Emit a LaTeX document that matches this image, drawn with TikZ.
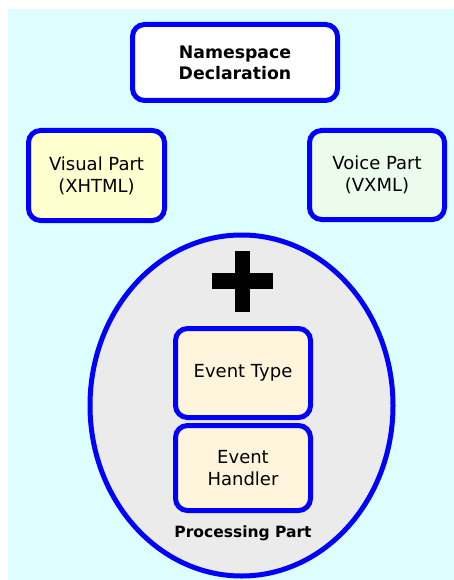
\documentclass[tikz,border=0pt]{standalone}
\usepackage{fontspec}
\setmainfont{DejaVu Sans}
\definecolor{nenxanh}{RGB}{221,255,255}
\definecolor{vienxanh}{RGB}{0,0,255}
\definecolor{vang}{RGB}{255,255,208}
\definecolor{xanhla}{RGB}{236,252,236}
\definecolor{xam}{RGB}{235,235,235}
\definecolor{kem}{RGB}{255,245,220}
\begin{document}
\begin{tikzpicture}[x=1pt,y=-1pt,line join=round,
	part/.style={draw=vienxanh,line width=5pt,rounded corners=12pt,align=center,font=\fontsize{18}{22}\selectfont},
	bold/.style={font=\fontsize{17.3}{21}\selectfont\bfseries}]
	\useasboundingbox (0,0) rectangle (454,580);
	\fill[nenxanh] (8,9) rectangle (454,580);
	% khung tren cung
	\node[part,bold,fill=white,minimum width=205pt,minimum height=76pt] (ns) at (235,62.5) {Namespace\\Declaration};
	\node[part,fill=vang,minimum width=136pt,minimum height=90pt] (visual) at (96.5,175.5) {Visual Part\\(XHTML)};
	\node[part,fill=xanhla,minimum width=135pt,minimum height=89pt] (voice) at (377,175) {Voice Part\\(VXML)};
	% phan xu ly (ellipse)
	\draw[vienxanh,line width=5pt,fill=xam] (241.5,405.5) ellipse [x radius=151.5, y radius=170.5];
	\fill (212,273) rectangle (273,289);
	\fill (235,251) rectangle (250,312);
	\node[part,fill=kem,minimum width=135pt,minimum height=89pt] (type) at (243,373) {Event Type};
	\node[part,fill=kem,minimum width=135pt,minimum height=85pt] (handler) at (243,468) {Event\\Handler};
	\node[font=\fontsize{15.5}{19}\selectfont\bfseries] (proc) at (243,533) {Processing Part};
\end{tikzpicture}
\end{document}
